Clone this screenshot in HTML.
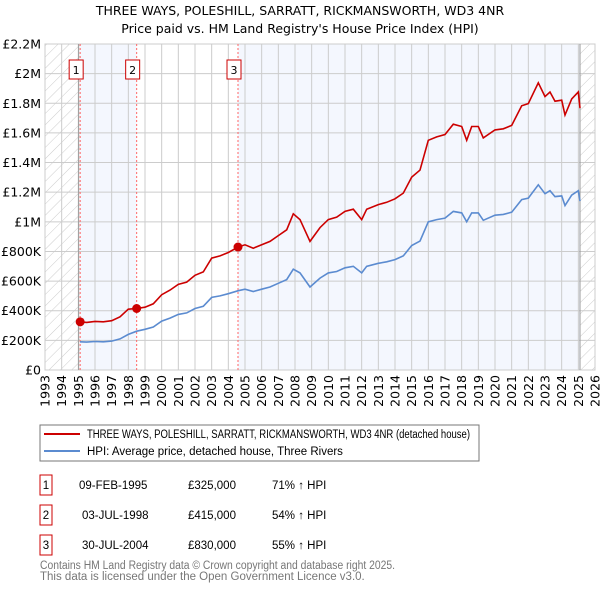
<!DOCTYPE html>
<html><head><meta charset="utf-8"><style>
body{margin:0;background:#fff;font-family:"Liberation Sans","DejaVu Sans",sans-serif;}
svg text{font-family:"DejaVu Sans","Liberation Sans",sans-serif;}
svg text.ls{font-family:"Liberation Sans","DejaVu Sans",sans-serif;}
</style></head><body>
<svg id="c" width="600" height="590" xmlns="http://www.w3.org/2000/svg">
<defs><pattern id="hatch" width="8" height="8" patternUnits="userSpaceOnUse" patternTransform="rotate(45)"><line x1="0" y1="0" x2="0" y2="8" stroke="#ccc" stroke-width="1"/></pattern></defs>
<text x="300" y="15" text-anchor="middle" font-size="12.5">THREE WAYS, POLESHILL, SARRATT, RICKMANSWORTH, WD3 4NR</text>
<text x="300" y="33" text-anchor="middle" font-size="12.5">Price paid vs. HM Land Registry's House Price Index (HPI)</text>
<g id="plot"></g>
<rect x="40" y="425" width="439" height="36" fill="none" stroke="#777"/>
<line x1="44" y1="434" x2="80" y2="434" stroke="#cc0000" stroke-width="2"/>
<text class="ls" x="87" y="438" font-size="11.5" textLength="383" lengthAdjust="spacingAndGlyphs">THREE WAYS, POLESHILL, SARRATT, RICKMANSWORTH, WD3 4NR (detached house)</text>
<line x1="44" y1="451" x2="80" y2="451" stroke="#5b8bd0" stroke-width="2"/>
<text class="ls" x="87" y="455" font-size="11.5">HPI: Average price, detached house, Three Rivers</text>
<g id="table" font-size="11.5"></g>
<text class="ls" x="40" y="569" font-size="11.5" fill="#777" textLength="355" lengthAdjust="spacingAndGlyphs">Contains HM Land Registry data © Crown copyright and database right 2025.</text>
<text class="ls" x="40" y="580" font-size="11.5" fill="#777">This data is licensed under the Open Government Licence v3.0.</text>
</svg>
<script>
const hpiYears=[1995.1,1995.5,1996,1996.5,1997,1997.5,1998,1998.5,1999,1999.5,2000,2000.5,2001,2001.5,2002,2002.5,2003,2003.5,2004,2004.6,2005,2005.5,2006,2006.5,2007,2007.5,2007.9,2008.3,2008.9,2009.5,2010,2010.5,2011,2011.5,2012,2012.3,2013,2013.5,2014,2014.5,2015,2015.5,2016,2016.5,2017,2017.5,2018,2018.3,2018.6,2019,2019.3,2020,2020.5,2021,2021.6,2022,2022.6,2023,2023.3,2023.6,2024,2024.2,2024.6,2025,2025.1];
const hpiValues=[190,188,192,190,195,210,240,262,275,290,330,350,375,385,415,430,490,500,515,535,545,530,545,560,585,610,680,655,560,620,655,665,690,700,655,700,720,730,745,770,840,870,1000,1015,1025,1070,1060,1000,1060,1060,1010,1045,1050,1065,1150,1160,1250,1190,1210,1170,1175,1110,1180,1210,1140];
const propValues=[325,321,328,325,333,359,410,415,424,447,508,539,578,593,639,662,755,770,793,830,845,822,845,868,907,946,1054,1015,868,961,1015,1031,1070,1085,1015,1085,1116,1132,1155,1194,1302,1349,1550,1573,1589,1659,1643,1550,1643,1643,1566,1620,1628,1651,1783,1798,1938,1845,1876,1814,1821,1721,1829,1876,1767];
const saleYears=[1995.11,1998.5,2004.58];
const salePrices=[325,415,830];
const saleDates=["09-FEB-1995","03-JUL-1998","30-JUL-2004"];
const salePriceLabels=["£325,000","£415,000","£830,000"];
const saleHpiLabels=["71% ↑ HPI","54% ↑ HPI","55% ↑ HPI"];
const yTicks=[0,200,400,600,800,1000,1200,1400,1600,1800,2000,2200];
const yTickLabels=["£0","£200K","£400K","£600K","£800K","£1M","£1.2M","£1.4M","£1.6M","£1.8M","£2M","£2.2M"];
const xTicks=[1993,1994,1995,1996,1997,1998,1999,2000,2001,2002,2003,2004,2005,2006,2007,2008,2009,2010,2011,2012,2013,2014,2015,2016,2017,2018,2019,2020,2021,2022,2023,2024,2025,2026];
const dataEnd=2025.1;

const X0=45,X1=595,Y0=370,Y1=44;
const xs=y=>X0+(y-1993)/(2026-1993)*(X1-X0);
const ys=v=>Y0-v/2200*(Y0-Y1);
const NS="http://www.w3.org/2000/svg";
const plot=document.getElementById('plot');
function mk(tag,attrs,parent){const e=document.createElementNS(NS,tag);for(const k in attrs)e.setAttribute(k,attrs[k]);(parent||plot).appendChild(e);return e;}

let e;
e=mk('rect',{x:X0,y:Y1,width:xs(saleYears[0])-X0,height:Y0-Y1,fill:'url(#hatch)'});


e=mk('rect',{x:xs(dataEnd),y:Y1,width:X1-xs(dataEnd),height:Y0-Y1,fill:'url(#hatch)'});


e=mk('rect',{x:xs(saleYears[0]),y:Y1,width:xs(saleYears[1])-xs(saleYears[0]),height:Y0-Y1,fill:'#f4f7fe'});


e=mk('rect',{x:xs(saleYears[2]),y:Y1,width:xs(dataEnd)-xs(saleYears[2]),height:Y0-Y1,fill:'#f4f7fe'});



yTicks.forEach((t,i)=>{
  e=mk('line',{x1:X0,x2:X1,y1:ys(t),y2:ys(t),stroke:'#ccc'});
  
  
  e=mk('text',{x:X0-4,y:ys(t)+4.5,'text-anchor':'end','font-size':'12.5'});
  e.textContent=yTickLabels[i];
  
  
});
xTicks.forEach(t=>{
  e=mk('line',{x1:xs(t),x2:xs(t),y1:Y1,y2:Y0,stroke:'#ccc'});
  
  
  e=mk('text',{x:0,y:0,'text-anchor':'end','font-size':'12.5',transform:`translate(${xs(t)+4.5},${Y0+5}) rotate(-90)`});
  e.textContent=t;
  
  
});
e=mk('rect',{x:X0,y:Y1,width:X1-X0,height:Y0-Y1,fill:'none',stroke:'#ccc'});


e=mk('line',{x1:xs(saleYears[0])-1.5,x2:xs(saleYears[0])-1.5,y1:Y1,y2:Y0,stroke:'#999'});


e=mk('line',{x1:xs(dataEnd),x2:xs(dataEnd),y1:Y1,y2:Y0,stroke:'#999'});



saleYears.forEach((s,i)=>{
  e=mk('line',{x1:xs(s),x2:xs(s),y1:Y1,y2:Y0,stroke:'#ff6666','stroke-dasharray':'2,2'});
  
  
  e=mk('rect',{x:xs(s)-11,y:60,width:14,height:19,fill:'#fff',stroke:'#cc0000'});
  
  
  e=mk('text',{x:xs(s)-4,y:74,'text-anchor':'middle','font-size':'11'});
  e.textContent=i+1;
  
  
});

const path=(vals)=>vals.map((v,i)=>(i?'L':'M')+xs(hpiYears[i]).toFixed(1)+','+ys(v).toFixed(1)).join('');
e=mk('path',{d:path(hpiValues),fill:'none',stroke:'#5b8bd0','stroke-width':1.6});


e=mk('path',{d:path(propValues),fill:'none',stroke:'#cc0000','stroke-width':1.6});


saleYears.forEach((s,i)=>{
  e=mk('circle',{cx:xs(s),cy:ys(salePrices[i]),r:4.5,fill:'#cc0000'});
  
  
});

const tb=document.getElementById('table');
saleYears.forEach((s,i)=>{
  const y=489+i*30;
  e=mk('rect',{x:40,y:y-14,width:12,height:20,fill:'#fff',stroke:'#cc0000'},tb);
  
  
  e=mk('text',{x:46,y:y,'text-anchor':'middle',class:'ls'},tb);e.textContent=i+1;
  
  
  e=mk('text',{x:i?82:79,y:y,class:'ls'},tb);e.textContent=saleDates[i];
  
  
  e=mk('text',{x:188,y:y,class:'ls'},tb);e.textContent=salePriceLabels[i];
  
  
  e=mk('text',{x:272,y:y,class:'ls'},tb);e.textContent=saleHpiLabels[i];
  
  
});
</script>
</body></html>
